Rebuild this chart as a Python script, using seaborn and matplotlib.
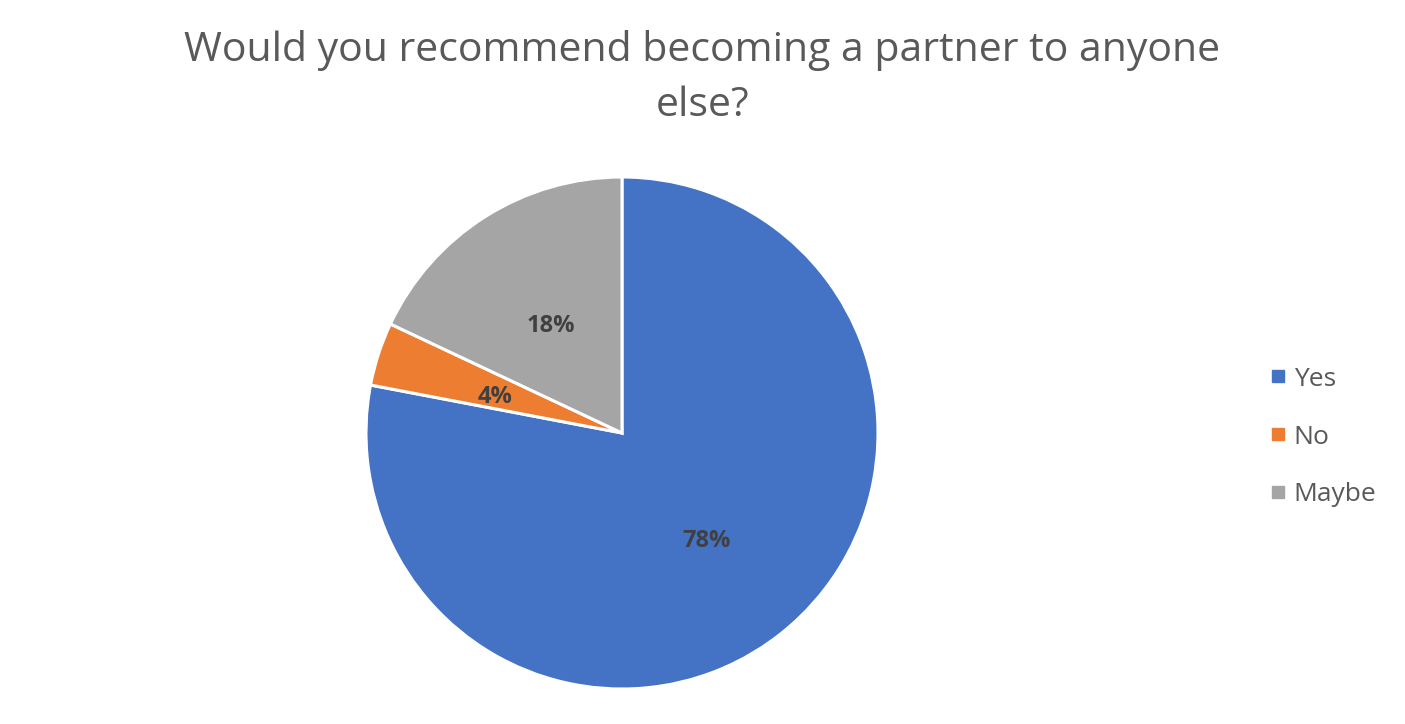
import matplotlib.pyplot as plt
from matplotlib.lines import Line2D
import seaborn as sns

labels = ["Yes", "No", "Maybe"]
shares = [78, 4, 18]
colors = ["#4472C4", "#ED7D31", "#A5A5A5"]
title = "Would you recommend becoming a partner to anyone\nelse?"

sns.set_theme(style="white")
plt.rcParams["font.family"] = ["Open Sans", "DejaVu Sans"]

W, H = 1405, 724
fig = plt.figure(figsize=(W / 100, H / 100), dpi=100)
fig.patch.set_facecolor("white")

cx, cy, r = 622, 433, 256
ax = fig.add_axes([(cx - r) / W, (H - cy - r) / H, 2 * r / W, 2 * r / H])

wedges, texts, autotexts = ax.pie(
    shares,
    colors=colors,
    startangle=90,
    counterclock=False,
    autopct=lambda p: f"{p:.0f}%",
    pctdistance=0.52,
    wedgeprops=dict(edgecolor="white", linewidth=2.2),
    textprops=dict(color="#404040", fontsize=17, fontweight="bold"),
)
for t in autotexts:
    t.set_y(t.get_position()[1] - 0.02)
ax.set_xlim(-1, 1)
ax.set_ylim(-1, 1)
ax.set_aspect("equal")

fig.text(0.5, 1 - 78 / H, title, ha="center", va="center",
         fontsize=29.5, color="#595959", linespacing=1.45)

handles = [Line2D([], [], marker="s", linestyle="none", markersize=9,
                  markerfacecolor=c, markeredgecolor=c) for c in colors]
fig.legend(handles, labels, loc="center left", bbox_to_anchor=(1241 / W, 1 - 437 / H),
           frameon=False, fontsize=19, labelcolor="#595959",
           handletextpad=0.1, labelspacing=1.25, handlelength=1.0)

fig.savefig("out.png", dpi=100, facecolor="white")
